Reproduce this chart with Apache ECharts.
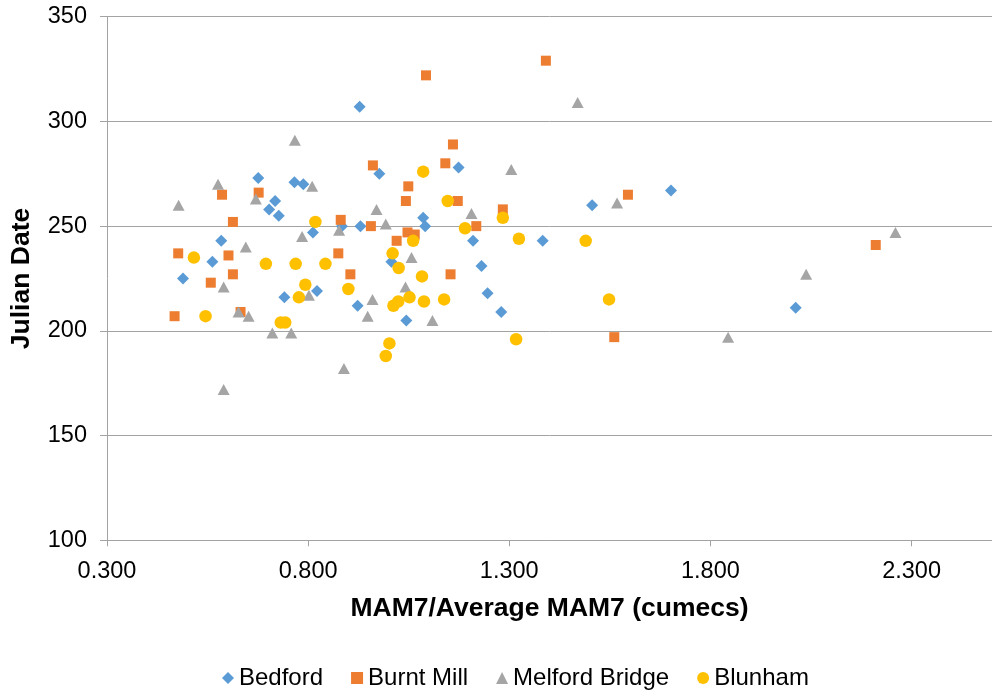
<!DOCTYPE html>
<html>
<head>
<meta charset="utf-8">
<script src="https://cdn.jsdelivr.net/npm/echarts@6/dist/echarts.min.js"></script>
<style>
  html, body { margin: 0; padding: 0; background: #fff; }
  #chart { width: 992px; height: 690px; }
</style>
</head>
<body>
<div id="chart"></div>
<script>
// Low-flow magnitude (MAM7 relative to its average) vs. Julian date of occurrence
const bedford = [
  [0.676, 273], [0.766, 271], [0.788, 270], [0.718, 262], [0.703, 258],
  [0.727, 255], [0.812, 247], [0.584, 243], [0.562, 233], [0.489, 225],
  [0.822, 219], [0.741, 216], [0.928, 307], [0.977, 275], [1.174, 278],
  [1.506, 260], [1.086, 254], [0.884, 250], [0.930, 250], [1.091, 250],
  [1.210, 243], [1.383, 243], [1.007, 233], [1.231, 231], [1.246, 218],
  [0.923, 212], [1.280, 209], [1.044, 205], [1.702, 267], [2.012, 211]
];
const burntMill = [
  [0.586, 265], [0.677, 266], [0.613, 252], [0.477, 237], [0.602, 236],
  [0.613, 227], [0.558, 223], [0.632, 209], [0.468, 207], [1.391, 329],
  [1.093, 322], [1.160, 289], [0.961, 279], [1.141, 280], [1.049, 269],
  [1.043, 262], [1.172, 262], [1.595, 265], [1.284, 258], [0.881, 253],
  [0.956, 250], [1.218, 250], [1.047, 247], [1.065, 246], [1.020, 243],
  [0.875, 237], [0.905, 227], [1.154, 227], [1.561, 197], [2.211, 241]
];
const melfordBridge = [
  [0.767, 291], [0.576, 270], [0.670, 263], [0.810, 269], [0.478, 260],
  [0.785, 245], [0.645, 240], [0.590, 221], [0.802, 217], [0.627, 209],
  [0.652, 207], [0.711, 199], [0.758, 199], [0.590, 172], [1.470, 309],
  [1.305, 277], [1.568, 261], [0.970, 258], [1.206, 256], [0.877, 248],
  [0.993, 251], [1.057, 235], [1.042, 221], [0.960, 215], [0.948, 207],
  [1.109, 205], [0.889, 182], [2.260, 247], [2.038, 227], [1.844, 197]
];
const blunham = [
  [0.818, 252], [0.516, 235], [0.695, 232], [0.769, 232], [0.843, 232],
  [0.793, 222], [0.777, 216], [0.545, 207], [0.732, 204], [0.743, 204],
  [1.086, 276], [1.147, 262], [1.284, 254], [1.190, 249], [1.061, 243],
  [1.324, 244], [1.490, 243], [1.010, 237], [1.025, 230], [1.083, 226],
  [0.900, 220], [1.052, 216], [1.024, 214], [1.012, 212], [1.088, 214],
  [1.138, 215], [1.548, 215], [1.317, 196], [1.002, 194], [0.993, 188]
];

const seriesNames = ['Bedford', 'Burnt Mill', 'Melford Bridge', 'Blunham'];
const xTicks = [0.3, 0.8, 1.3, 1.8, 2.3];
const xRange = [0.3, 2.5];
const yRange = [100, 350];
const yStep = 50;

const FONT = '"Liberation Sans", Arial, sans-serif';
const GRID_COLOR = '#a3a3a3';

const chart = echarts.init(document.getElementById('chart'), null, { renderer: 'canvas' });

function scatter(name, data, symbol, size, color) {
  return {
    name: name,
    type: 'scatter',
    data: data,
    symbol: symbol,
    symbolSize: size,
    itemStyle: { color: color, opacity: 1 },
    emphasis: { disabled: true }
  };
}

chart.setOption({
  animation: false,
  backgroundColor: '#ffffff',
  textStyle: { fontFamily: FONT },
  grid: { left: 103.3, top: 16.7, right: -3, bottom: 149.7, containLabel: false },
  legend: {
    data: seriesNames,
    left: 217,
    top: 661,
    itemWidth: 12,
    itemHeight: 12,
    itemGap: 28,
    textStyle: { fontFamily: FONT, fontSize: 24, color: '#000' }
  },
  xAxis: {
    type: 'value',
    min: xRange[0],
    max: xRange[1],
    name: 'MAM7/Average MAM7 (cumecs)',
    nameLocation: 'middle',
    nameGap: 55,
    nameTextStyle: { fontFamily: FONT, fontSize: 26.5, fontWeight: 'bold', color: '#000' },
    axisLine: { show: true, lineStyle: { color: GRID_COLOR, width: 1 } },
    axisTick: { show: true, length: 6, customValues: xTicks, lineStyle: { color: GRID_COLOR } },
    axisLabel: {
      customValues: xTicks,
      formatter: v => v.toFixed(3),
      margin: 19,
      fontFamily: FONT, fontSize: 23.5, color: '#000'
    },
    splitLine: { show: false }
  },
  yAxis: {
    type: 'value',
    min: yRange[0],
    max: yRange[1],
    interval: yStep,
    name: 'Julian Date',
    nameLocation: 'middle',
    nameGap: 72,
    nameTextStyle: { fontFamily: FONT, fontSize: 26.5, fontWeight: 'bold', color: '#000' },
    axisLine: { show: true, lineStyle: { color: GRID_COLOR, width: 1 } },
    axisTick: { show: true, length: 7, lineStyle: { color: GRID_COLOR } },
    axisLabel: { margin: 20, fontFamily: FONT, fontSize: 23.5, color: '#000' },
    splitLine: { show: true, lineStyle: { color: GRID_COLOR, width: 1 } }
  },
  series: [
    scatter(seriesNames[0], bedford, 'diamond', 12, '#5b9bd5'),
    scatter(seriesNames[1], burntMill, 'rect', 10, '#ed7d31'),
    scatter(seriesNames[2], melfordBridge, 'triangle', [12, 11], '#a5a5a5'),
    scatter(seriesNames[3], blunham, 'circle', 12.5, '#ffc000')
  ]
});
</script>
</body>
</html>
